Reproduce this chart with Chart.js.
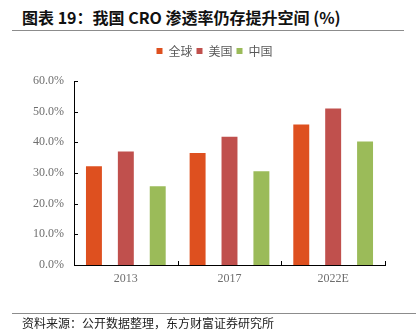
<!DOCTYPE html>
<html>
<head>
<meta charset="utf-8">
<script src="https://cdn.jsdelivr.net/npm/chart.js@4/dist/chart.umd.min.js"></script>
<style>
  html, body { margin: 0; padding: 0; background: #fff; }
  #wrap { position: relative; width: 416px; height: 334px; overflow: hidden; }
  #title {
    position: absolute; left: 22px; top: 5px;
    font: bold 16px "Noto Sans CJK SC", sans-serif; color: #111; white-space: nowrap;
  }
  .rule { position: absolute; left: 12px; width: 392px; height: 0; border-top: 1.5px solid #8c8c8c; }
  #source {
    position: absolute; left: 22px; top: 314px;
    font: 12px "Noto Sans CJK SC", sans-serif; color: #222; white-space: nowrap;
  }
  #reportChart { position: absolute; left: 0; top: 0; }
</style>
</head>
<body>
<div id="wrap">
  <div id="title">图表 19：我国 CRO 渗透率仍存提升空间 (%)</div>
  <div class="rule" style="top:30px"></div>
  <canvas id="reportChart" width="416" height="334"></canvas>
  <div class="rule" style="top:313px; width:404px"></div>
  <div id="source">资料来源：公开数据整理，东方财富证券研究所</div>
</div>
<script>
const years = ["2013", "2017", "2022E"];
const globalRate = [32.2, 36.5, 45.8];
const usRate = [37.0, 41.8, 51.0];
const chinaRate = [25.7, 30.6, 40.3];
const yTicks = [0, 10, 20, 30, 40, 50, 60];

// ticks drawn inward, like the source chart
const innerTicks = {
    id: "innerTicks",
    afterDraw(chart) {
        const { ctx, chartArea, scales } = chart;
        ctx.save();
        ctx.strokeStyle = "#000";
        ctx.lineWidth = 1;
        ctx.beginPath();
        yTicks.forEach(function (v) {
            const py = Math.round(scales.y.getPixelForValue(v)) + 0.5;
            ctx.moveTo(chartArea.left, py);
            ctx.lineTo(chartArea.left + 4, py);
        });
        for (let i = 1; i <= years.length; i++) {
            const px = Math.round(scales.x.getPixelForValue(i - 0.5)) + 0.5;
            ctx.moveTo(px, chartArea.bottom);
            ctx.lineTo(px, chartArea.bottom - 4);
        }
        ctx.stroke();
        ctx.restore();
    }
};

// extra room under the legend, and legend nudged right
const legendSpace = {
    id: "legendSpace",
    beforeInit(chart) {
        const origFit = chart.legend.fit;
        chart.legend.fit = function () {
            origFit.bind(chart.legend)();
            this.height += 14;
        };
    },
    afterLayout(chart) {
        chart.legend.left += 22;
        chart.legend.right += 22;
    }
};

new Chart(document.getElementById("reportChart"), {
    type: "bar",
    data: {
        labels: years,
        datasets: [
            { label: "全球", data: globalRate, backgroundColor: "#DE501F" },
            { label: "美国", data: usRate, backgroundColor: "#C0504D" },
            { label: "中国", data: chinaRate, backgroundColor: "#9BBB59" }
        ]
    },
    options: {
        responsive: false,
        animation: false,
        devicePixelRatio: 1,
        categoryPercentage: 0.923,
        barPercentage: 0.5,
        layout: { padding: { top: 41, right: 31, bottom: 0, left: 0 } },
        plugins: {
            legend: {
                position: "top",
                labels: {
                    boxWidth: 6,
                    boxHeight: 6,
                    padding: 4,
                    color: "#595959",
                    font: { family: "'Noto Sans CJK SC'", size: 12 }
                }
            },
            tooltip: { enabled: false }
        },
        scales: {
            x: {
                grid: { display: false, drawTicks: false },
                border: { color: "#000", width: 1 },
                ticks: {
                    padding: 7,
                    color: "#6e6e6e",
                    font: { family: "'Liberation Serif'", size: 12 }
                },
                afterFit: function (scale) { scale.height = 69; }
            },
            y: {
                min: 0,
                max: 60,
                grid: { display: false, drawTicks: false },
                border: { color: "#000", width: 1 },
                ticks: {
                    stepSize: 10,
                    padding: 10,
                    color: "#6e6e6e",
                    font: { family: "'Liberation Serif'", size: 12 },
                    callback: function (v) { return v.toFixed(1) + "%"; }
                },
                afterFit: function (scale) { scale.width = 74; }
            }
        }
    },
    plugins: [innerTicks, legendSpace]
});
</script>
</body>
</html>
